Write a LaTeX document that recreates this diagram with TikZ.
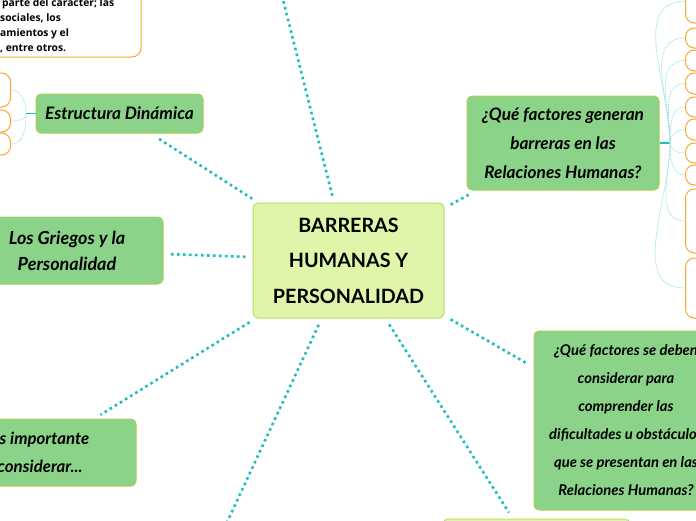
\documentclass[tikz,border=0pt]{standalone}
\usepackage{fontspec}
\setmainfont{Lato}
\newfontfamily\notefont{Open Sans}
\definecolor{gfill}{RGB}{140,211,138}
\definecolor{gborder}{RGB}{170,206,84}
\definecolor{cfill}{RGB}{223,245,170}
\definecolor{cborder}{RGB}{188,220,112}
\definecolor{tealc}{RGB}{28,190,190}
\definecolor{faint}{RGB}{150,224,224}
\definecolor{orng}{RGB}{247,168,40}
\begin{document}
\begin{tikzpicture}[x=1pt,y=-1pt,
  gbox/.style={draw=gborder, fill=gfill, line width=1pt, rounded corners=5pt, align=center, inner sep=0pt,
    font=\fontsize{17.2}{29}\selectfont\bfseries\itshape},
  cbox/.style={draw=cborder, fill=cfill, line width=1pt, rounded corners=5pt, align=center, inner sep=0pt,
    font=\fontsize{19.7}{35.5}\selectfont\bfseries},
  obox/.style={draw=orng, fill=white, line width=1pt, rounded corners=9pt, inner sep=0pt},
  conn/.style={draw=tealc, line width=2.6pt, dash pattern=on 2.6pt off 3.4pt, shorten <=7pt, shorten >=7pt},
  faintc/.style={draw=faint, line width=0.7pt, dash pattern=on 1.2pt off 0.8pt},
  stub/.style={draw=tealc, line width=1.3pt}
]
\useasboundingbox (0,0) rectangle (696,520);
\clip (0,0) rectangle (696,520);

% main nodes
\node[cbox, minimum width=191pt, minimum height=115pt] (c) at (348.5,260.5) {BARRERAS\\HUMANAS Y\\PERSONALIDAD};
\node[gbox, minimum width=167pt, minimum height=39pt] (estr) at (119.5,113.5) {Estructura Dinámica};
\node[gbox, minimum width=192pt, minimum height=94pt] (qgen) at (563,143) {¿Qué factores generan\\barreras en las\\Relaciones Humanas?};
\node[gbox, minimum width=192pt, minimum height=67pt, font=\fontsize{18}{26}\selectfont\bfseries\itshape] (gri) at (67,250.5) {Los Griegos y la\\Personalidad};
\node[gbox, minimum width=192pt, minimum height=67pt, font=\fontsize{16.8}{28}\selectfont\bfseries\itshape] (esi) at (40,452.5) {Es importante\\considerar...};
\node[gbox, minimum width=184pt, minimum height=179pt, font=\fontsize{14.8}{28}\selectfont\bfseries\itshape] (qdeb) at (626,420.5) {¿Qué factores se deben\\considerar para\\comprender las\\dificultades u obstáculos\\que se presentan en las\\Relaciones Humanas?};
\node[cbox, minimum width=187pt, minimum height=74pt] (bot) at (536.5,556) {};
\coordinate (topn) at (258,-100);
\coordinate (bln) at (191,600);

% top-left note
\node[obox, minimum width=241pt, minimum height=97pt] (note) at (20.5,8.5) {};
\node[anchor=west, align=left, inner sep=0pt, font=\notefont\fontsize{10.3}{15}\selectfont\bfseries] (notetext) at (0,25.5)
  {\hspace*{2pt}parte del caracter; las\\sociales, los\\amientos y el\\, entre otros.};

% connectors
\draw[conn] (c) -- (topn);
\draw[conn] (c) -- (estr);
\draw[conn] (c) -- (qgen);
\draw[conn] (c) -- (gri);
\draw[conn] (c) -- (esi);
\draw[conn] (c) -- (qdeb);
\draw[conn] (c) -- (bot);
\draw[conn] (c) -- (bln);

% right sub-boxes
\node[obox, anchor=west, minimum width=80pt, minimum height=43pt] (r1) at (685,1.5) {};
\node[obox, anchor=west, minimum width=80pt, minimum height=20pt] (r2) at (685,38) {};
\node[obox, anchor=west, minimum width=80pt, minimum height=21pt] (r3) at (685,60.5) {};
\node[obox, anchor=west, minimum width=80pt, minimum height=21pt] (r4) at (685,83.5) {};
\node[obox, anchor=west, minimum width=80pt, minimum height=20pt] (r5) at (685,107) {};
\node[obox, anchor=west, minimum width=80pt, minimum height=21pt] (r6) at (685,129.5) {};
\node[obox, anchor=west, minimum width=80pt, minimum height=20pt] (r7) at (685,153) {};
\node[obox, anchor=west, minimum width=80pt, minimum height=20pt] (r8) at (685,175) {};
\node[obox, anchor=west, minimum width=80pt, minimum height=64pt] (r9) at (685,221) {};
\node[obox, anchor=west, minimum width=80pt, minimum height=60pt] (r10) at (685,288) {};
\coordinate (jr) at (670,143);
\draw[stub] (qgen.east) -- (jr);
\foreach \n in {1,2,3,4,5,6} {\draw[faintc] (jr) to[out=90, in=180] (r\n.west);}
\foreach \n in {7,8,9,10} {\draw[faintc] (jr) to[out=-90, in=180] (r\n.west);}

% left sub-boxes
\node[obox, anchor=east, minimum width=60pt, minimum height=34pt] (l1) at (11,90) {};
\node[obox, anchor=east, minimum width=60pt, minimum height=22pt] (l2) at (11,121) {};
\node[obox, anchor=east, minimum width=60pt, minimum height=22pt] (l3) at (11,144) {};
\coordinate (jl) at (26,113.5);
\draw[stub] (estr.west) -- (jl);
\draw[faintc] (jl) to[out=90, in=0] (l1.east);
\draw[faintc] (jl) to[out=-90, in=0] (l2.east);
\draw[faintc] (jl) to[out=-90, in=0] (l3.east);
\end{tikzpicture}
\end{document}
